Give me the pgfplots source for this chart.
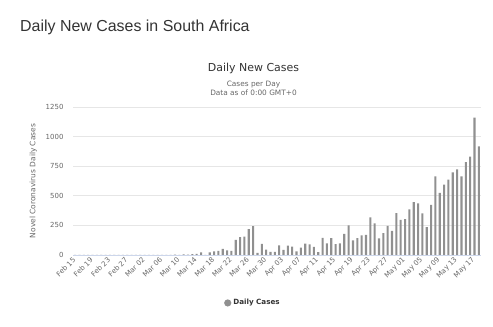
\documentclass[border=0pt]{standalone}
\usepackage{pgfplots}
\usepackage{pgfplotstable}
\pgfplotsset{compat=1.18}
\usepackage{fontspec}
\setmainfont{DejaVu Sans}
\newfontfamily\titlefont{Liberation Sans}
\definecolor{barcolor}{HTML}{909090}
\definecolor{gridgray}{HTML}{E6E6E6}
\definecolor{axisblue}{HTML}{CCD6EB}
\definecolor{txtdark}{HTML}{333333}
\definecolor{txtgray}{HTML}{666666}

\pgfplotstableread{
idx val
0 0
1 0
2 0
3 0
4 0
5 0
6 0
7 0
8 0
9 0
10 0
11 0
12 0
13 0
14 0
15 0
16 0
17 0
18 0
19 1
20 0
21 1
22 1
23 4
24 0
25 6
26 4
27 7
28 10
29 23
30 1
31 23
32 31
33 34
34 52
35 38
36 34
37 128
38 152
39 155
40 218
41 243
42 17
43 93
44 46
45 27
46 27
47 82
48 43
49 80
50 70
51 31
52 63
53 96
54 89
55 69
56 25
57 145
58 99
59 143
60 91
61 99
62 178
63 251
64 124
65 142
66 165
67 170
68 318
69 267
70 141
71 185
72 247
73 203
74 354
75 297
76 304
77 385
78 447
79 437
80 352
81 236
82 424
83 663
84 525
85 595
86 637
87 698
88 724
89 665
90 785
91 831
92 1160
93 918
}\cases

\begin{document}
\begin{tikzpicture}
\useasboundingbox (0,0) rectangle (493bp,327bp);
\node[anchor=base west, font=\titlefont\fontsize{16}{19}\selectfont, text=txtdark, inner sep=0] at (20bp,295bp) {Daily New Cases in South Africa};
\node[anchor=base, font=\fontsize{11}{13}\selectfont, text=txtdark, inner sep=0] at (253.5bp,255.5bp) {Daily New Cases};
\node[anchor=base, font=\fontsize{7.4}{9}\selectfont, text=txtgray, inner sep=0] at (253.5bp,240.5bp) {Cases per Day};
\node[anchor=base, font=\fontsize{7.4}{9}\selectfont, text=txtgray, inner sep=0] at (253.5bp,231bp) {Data as of 0:00 GMT+0};
\begin{axis}[
  at={(73bp,72bp)}, anchor=south west,
  scale only axis, width=408bp, height=148bp,
  xmin=-0.5, xmax=93.5, ymin=0, ymax=1250,
  ytick={0,250,500,750,1000,1250},
  xtick={0,4,...,92},
  xticklabels={Feb 15,Feb 19,Feb 23,Feb 27,Mar 02,Mar 06,Mar 10,Mar 14,Mar 18,Mar 22,Mar 26,Mar 30,Apr 03,Apr 07,Apr 11,Apr 15,Apr 19,Apr 23,Apr 27,May 01,May 05,May 09,May 13,May 17},
  /pgf/number format/assume math mode=true,
  /pgf/number format/1000 sep={},
  separate axis lines,
  axis x line*=bottom, axis y line*=left,
  y axis line style={draw=none},
  x axis line style={draw=axisblue, line width=0.8bp, -},
  major tick length=0pt,
  tick style={draw=none},
  ymajorgrids,
  grid style={draw=gridgray, line width=0.6bp},
  yticklabel style={font=\fontsize{7}{8}\selectfont, text=txtgray, xshift=-6bp},
  xticklabel style={font=\fontsize{7}{8}\selectfont, text=txtgray, rotate=45, anchor=east, yshift=-2bp},
  ylabel={Novel Coronavirus Daily Cases},
  ylabel style={at={(axis description cs:-0.097,0.5)}, anchor=center, font=\fontsize{7.5}{9}\selectfont, text=txtgray},
  legend style={at={(axis description cs:0.441,-0.324)}, anchor=center, draw=none, fill=none, font=\bfseries\fontsize{7.2}{9}\selectfont, text=txtdark, inner sep=0pt},
  legend image code/.code={\fill[barcolor] (3.6bp,0) circle (3.6bp);},
  legend cell align=left,
]
\addplot[ybar, bar width=0.48, fill=barcolor, draw=none] table[x=idx, y=val] {\cases};
\addlegendentry{Daily Cases}
\end{axis}
\end{tikzpicture}
\end{document}
